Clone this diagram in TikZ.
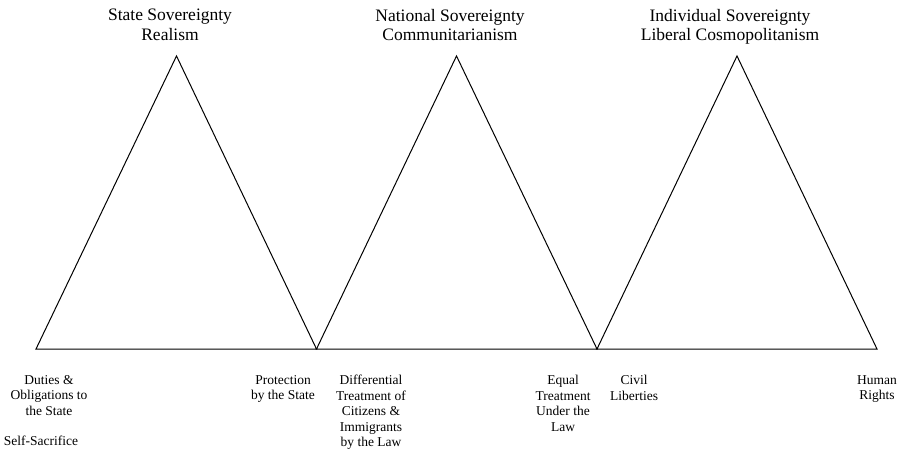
\documentclass[tikz,border=0pt]{standalone}
\usepackage{fontspec}
\setmainfont{Liberation Serif}
\begin{document}
\begin{tikzpicture}[x=1pt,y=-1pt,
  tri/.style={draw=black,line width=1pt,line join=miter},
  title/.style={anchor=north,inner sep=0pt,align=center,font=\fontsize{17.5}{19.5}\selectfont},
  lab/.style={anchor=north,inner sep=0pt,align=center,font=\fontsize{13.5}{15.5}\selectfont}]
\useasboundingbox (0,0) rectangle (900,452);
% base vertices and apexes
\coordinate (b0) at (36,349);
\coordinate (b1) at (316.5,349);
\coordinate (b2) at (597,349);
\coordinate (b3) at (877,349);
\coordinate (a1) at (176.5,56);
\coordinate (a2) at (456.5,56);
\coordinate (a3) at (737,56);
\draw[tri] (b0) -- (a1) -- (b1) -- cycle;
\draw[tri] (b1) -- (a2) -- (b2) -- cycle;
\draw[tri] (b2) -- (a3) -- (b3) -- cycle;
% titles
\node[title] (t1) at (170,9) {State Sovereignty\\Realism};
\node[title] (t2) at (450,9) {National Sovereignty\\Communitarianism};
\node[title] (t3) at (730,9) {Individual Sovereignty\\Liberal Cosmopolitanism};
% bottom labels
\node[lab] (duties) at (49,375) {Duties \&\\Obligations to\\the State};
\node[lab] (sacrifice) at (41,436) {Self-Sacrifice};
\node[lab] (protection) at (283,375) {Protection\\by the State};
\node[lab] (differential) at (371,375) {Differential\\Treatment of\\Citizens \&\\Immigrants\\by the Law};
\node[lab] (equal) at (563,375) {Equal\\Treatment\\Under the\\Law};
\node[lab] (civil) at (634,375) {Civil\\Liberties};
\node[lab] (human) at (877,375) {Human\\Rights};
\end{tikzpicture}
\end{document}
